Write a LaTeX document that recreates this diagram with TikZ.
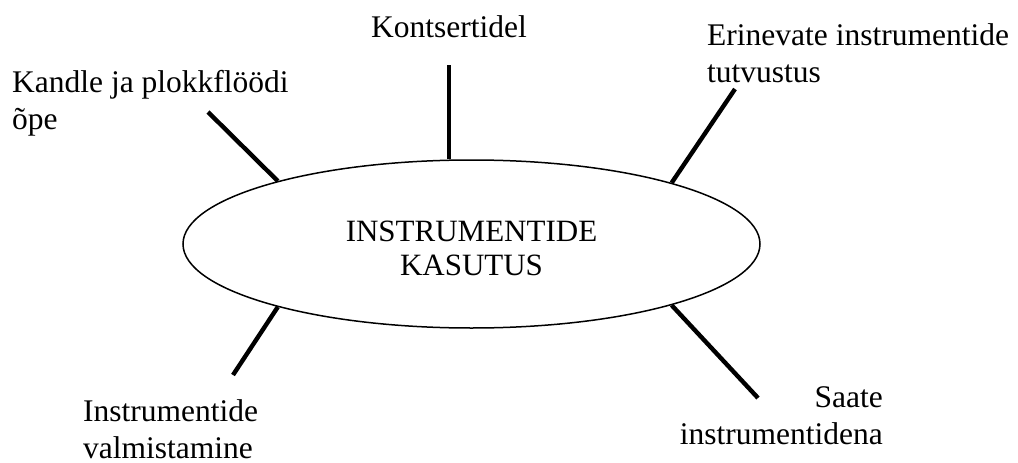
\documentclass[tikz,border=0pt]{standalone}
\usepackage{fontspec}
\setmainfont{Liberation Serif}
\usetikzlibrary{shapes.geometric}
\tikzset{
  lbl/.style={inner sep=0pt, font=\fontsize{31.5}{36.5}\selectfont},
  spoke/.style={line width=4.4pt, line cap=butt},
  hub/.style={draw, ellipse, line width=1.5pt, minimum width=577pt, minimum height=168pt, inner sep=0pt},
  hubtext/.style={inner sep=0pt, align=center, font=\fontsize{31}{34}\selectfont}
}
\begin{document}
\begin{tikzpicture}[x=1pt,y=-1pt]
\useasboundingbox (0,0) rectangle (1018,463);
\node[hub] (c) at (471.5,244) {};
\node[hubtext, anchor=base] (ct) at (471.5,275) {INSTRUMENTIDE\\KASUTUS};
% labels (base = baseline of last line)
\node[lbl, anchor=base] (k) at (449,37) {Kontsertidel};
\node[lbl, anchor=base west, align=left] (kp) at (12,129) {Kandle ja plokkflöödi\\õpe};
\node[lbl, anchor=base west, align=left] (er) at (707,82) {Erinevate instrumentide\\tutvustus};
\node[lbl, anchor=base west, align=left] (iv) at (83,458) {Instrumentide\\valmistamine};
\node[lbl, anchor=base east, align=right] (sa) at (883,444) {Saate\\instrumentidena};
% spoke ends
\coordinate (tk) at (449,65);
\coordinate (tkp) at (208,112);
\coordinate (ter) at (735,89);
\coordinate (tiv) at (233,375);
\coordinate (tsa) at (758,398);
\draw[spoke] (tk) -- (tk |- c.north);
\draw[spoke] (tkp) -- (c.162.2);
\draw[spoke] (ter) -- (c.17.8);
\draw[spoke] (tiv) -- (c.-162.2);
\draw[spoke] (tsa) -- (c.-17.8);
\end{tikzpicture}
\end{document}
